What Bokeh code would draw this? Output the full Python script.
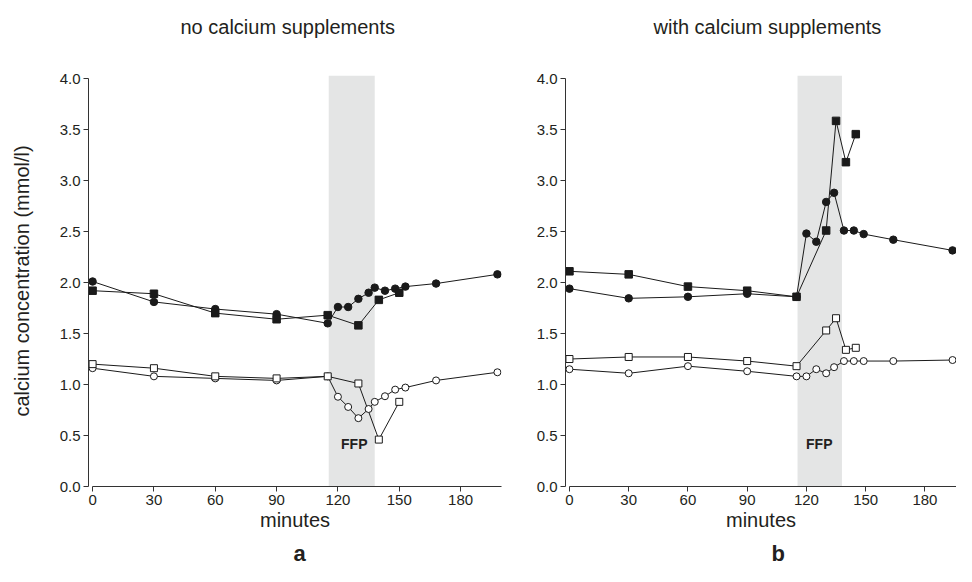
from bokeh.plotting import figure
from bokeh.layouts import row
from bokeh.models import Label, Range1d, FixedTicker, Title
from bokeh.embed import file_html
from bokeh.resources import INLINE

# ---------------- data ----------------
titles = ["no calcium supplements", "with calcium supplements"]
panel_letters = ["a", "b"]
x_label = "minutes"
y_label = "calcium concentration (mmol/l)"
ffp_text = "FFP"
ffp_start = 115.5
ffp_end = 138.0

x_ticks = [0, 30, 60, 90, 120, 150, 180]
y_ticks = [0.0, 0.5, 1.0, 1.5, 2.0, 2.5, 3.0, 3.5, 4.0]
y_tick_labels = ["0.0", "0.5", "1.0", "1.5", "2.0", "2.5", "3.0", "3.5", "4.0"]

# panel a: no calcium supplements
a_fc_x = [0, 30, 60, 90, 115, 120, 125, 130, 135, 138, 143, 148, 153, 168, 198]
a_fc_y = [2.01, 1.81, 1.74, 1.69, 1.60, 1.76, 1.76, 1.84, 1.90, 1.95, 1.92, 1.94, 1.96, 1.99, 2.08]
a_fs_x = [0, 30, 60, 90, 115, 130, 140, 150]
a_fs_y = [1.92, 1.89, 1.70, 1.64, 1.68, 1.58, 1.83, 1.90]
a_os_x = [0, 30, 60, 90, 115, 130, 140, 150]
a_os_y = [1.20, 1.16, 1.08, 1.06, 1.08, 1.01, 0.46, 0.83]
a_oc_x = [0, 30, 60, 90, 115, 120, 125, 130, 135, 138, 143, 148, 153, 168, 198]
a_oc_y = [1.16, 1.08, 1.06, 1.04, 1.08, 0.88, 0.78, 0.67, 0.76, 0.83, 0.885, 0.95, 0.97, 1.04, 1.12]

# panel b: with calcium supplements
b_fs_x = [0, 30, 60, 90, 115, 130, 135, 140, 145]
b_fs_y = [2.11, 2.08, 1.96, 1.92, 1.86, 2.51, 3.585, 3.18, 3.455]
b_fc_x = [0, 30, 60, 90, 115, 120, 125, 130, 134, 139, 144, 149, 164, 194]
b_fc_y = [1.94, 1.845, 1.86, 1.89, 1.86, 2.48, 2.40, 2.79, 2.88, 2.51, 2.51, 2.475, 2.42, 2.315]
b_os_x = [0, 30, 60, 90, 115, 130, 135, 140, 145]
b_os_y = [1.25, 1.27, 1.27, 1.23, 1.18, 1.53, 1.65, 1.34, 1.36]
b_oc_x = [0, 30, 60, 90, 115, 120, 125, 130, 134, 139, 144, 149, 164, 194]
b_oc_y = [1.15, 1.11, 1.18, 1.13, 1.08, 1.08, 1.15, 1.11, 1.17, 1.23, 1.23, 1.23, 1.23, 1.24]

# ---------------- style ----------------
FONT = "Liberation Sans"
TXT = "#231f20"
LINE = "#1a1a1a"
SHADE = "#e4e5e5"


def make_panel(title, letter, fc, fs, os_, oc, x_end, frame_w, mb_left, mb_right,
               ffp_x, title_offset, letter_offset):
    p = figure(frame_width=frame_w, frame_height=411,
               x_range=Range1d(-2, x_end), y_range=Range1d(0, 4.03),
               output_backend="svg", toolbar_location=None,
               min_border_left=mb_left, min_border_right=mb_right,
               min_border_top=75, min_border_bottom=80)
    p.outline_line_color = None
    p.xgrid.visible = False
    p.ygrid.visible = False
    p.background_fill_color = "white"
    p.border_fill_color = "white"

    # spacer between frame and title (closest to the frame)
    p.add_layout(Title(text=" ", text_font_size="19px"), "above")
    p.title.text = title
    p.title.align = "left"
    p.title.offset = title_offset
    p.title.text_font = FONT
    p.title.text_font_size = "20px"
    p.title.text_font_style = "normal"
    p.title.text_color = TXT

    for ax in (p.xaxis[0], p.yaxis[0]):
        ax.axis_line_color = "#333333"
        ax.axis_line_width = 1
        ax.major_tick_line_color = "#333333"
        ax.major_tick_out = 5
        ax.major_tick_in = 0
        ax.minor_tick_line_color = None
        ax.major_label_text_font = FONT
        ax.major_label_text_font_size = "15px"
        ax.major_label_text_color = TXT
        ax.major_label_standoff = 3
        ax.axis_label_text_font = FONT
        ax.axis_label_text_font_size = "20px"
        ax.axis_label_text_font_style = "normal"
        ax.axis_label_text_color = TXT
    p.xaxis.ticker = FixedTicker(ticks=x_ticks)
    p.xaxis.bounds = (0, 200)
    p.xaxis.axis_label = x_label
    p.xaxis.axis_label_standoff = 1
    p.yaxis.ticker = FixedTicker(ticks=y_ticks)
    p.yaxis.major_label_overrides = {t: s for t, s in zip(y_ticks, y_tick_labels)}
    p.yaxis.bounds = (0, 4)

    p.add_layout(Title(text=letter, align="left", offset=letter_offset,
                       text_font=FONT, text_font_size="22px",
                       text_font_style="bold", text_color=TXT), "below")

    # FFP shading
    p.quad(left=[ffp_start], right=[ffp_end], bottom=[0], top=[4.03],
           fill_color=SHADE, line_color=None)

    # lines
    for xs, ys in (fc, fs, os_, oc):
        p.line(xs, ys, line_color=LINE, line_width=1)

    # markers
    p.scatter(oc[0], oc[1], marker="circle", size=7, fill_color="white",
              line_color=LINE, line_width=1)
    p.scatter(os_[0], os_[1], marker="square", size=7, fill_color="white",
              line_color=LINE, line_width=1)
    p.scatter(fc[0], fc[1], marker="circle", size=7.5, fill_color=LINE,
              line_color=LINE)
    p.scatter(fs[0], fs[1], marker="square", size=7.5, fill_color=LINE,
              line_color=LINE)

    p.add_layout(Label(x=ffp_x, y=0.42, text=ffp_text, text_align="center",
                       text_baseline="middle", text_font=FONT,
                       text_font_size="14px", text_font_style="bold",
                       text_color=TXT))
    return p


p1 = make_panel(titles[0], panel_letters[0], (a_fc_x, a_fc_y), (a_fs_x, a_fs_y),
                (a_os_x, a_os_y), (a_oc_x, a_oc_y), 200, 413, 88, 9, 128, 92, 205)
p1.yaxis.axis_label = y_label
p1.yaxis.axis_label_standoff = 24
p2 = make_panel(titles[1], panel_letters[1], (b_fc_x, b_fc_y), (b_fs_x, b_fs_y),
                (b_os_x, b_os_y), (b_oc_x, b_oc_y), 196, 391, 55, 0, 126.5, 88, 206)

layout = row(p1, p2)
open("out.html", "w").write(file_html(layout, INLINE))
